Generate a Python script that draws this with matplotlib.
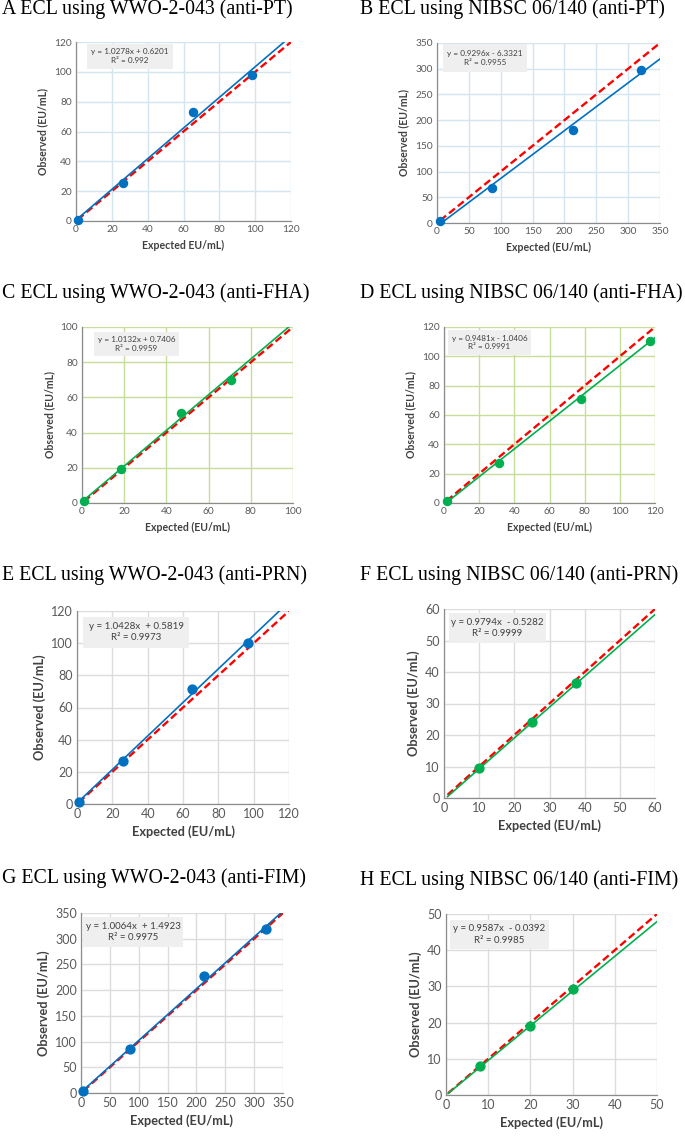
import matplotlib
matplotlib.use('Agg')
import matplotlib.pyplot as plt
import numpy as np
from matplotlib.patches import Rectangle

# ---- data ----
titles = ['A ECL using WWO-2-043 (anti-PT)', 'B ECL using NIBSC 06/140 (anti-PT)',
          'C ECL using WWO-2-043 (anti-FHA)', 'D ECL using NIBSC 06/140 (anti-FHA)',
          'E ECL using WWO-2-043 (anti-PRN)', 'F ECL using NIBSC 06/140 (anti-PRN)',
          'G ECL using WWO-2-043 (anti-FIM)', 'H ECL using NIBSC 06/140 (anti-FIM)']
xlabels = ['Expected EU/mL)'] + ['Expected (EU/mL)'] * 7

expected_A = [1, 26.5, 65.5, 98.5]
observed_A = [1, 25.5, 73, 98]
expected_B = [5, 86, 214, 320]
observed_B = [3, 69, 181, 298]
expected_C = [1, 18.5, 47, 70.5]
observed_C = [1, 19.5, 51, 70]
expected_D = [1.5, 31, 78, 117]
observed_D = [1.5, 27, 71, 110.5]
expected_E = [1, 26, 65, 97]
observed_E = [1.5, 27, 71.5, 100]
expected_F = [10, 25, 37.5]
observed_F = [9.5, 24, 36.5]
expected_G = [4, 85, 213, 320]
observed_G = [4, 86, 227, 319]
expected_H = [8, 20, 30]
observed_H = [8, 19, 29.3]

slopes = [1.0278, 0.9296, 1.0132, 0.9481, 1.0428, 0.9794, 1.0064, 0.9587]
intercepts = [0.6201, -6.3321, 0.7406, -1.0406, 0.5819, -0.5282, 1.4923, -0.0392]
equations = ['y = 1.0278x + 0.6201', 'y = 0.9296x - 6.3321', 'y = 1.0132x + 0.7406',
             'y = 0.9481x - 1.0406', 'y = 1.0428x  + 0.5819', 'y = 0.9794x  - 0.5282',
             'y = 1.0064x  + 1.4923', 'y = 0.9587x  - 0.0392']
r2 = ['R² = 0.992', 'R² = 0.9955', 'R² = 0.9959', 'R² = 0.9991',
      'R² = 0.9973', 'R² = 0.9999', 'R² = 0.9975', 'R² = 0.9985']

axis_max = [120, 350, 100, 120, 120, 60, 350, 50]
tick_step = [20, 50, 20, 20, 20, 10, 50, 10]
line_start = [1, 5, 1, 1.5, 1, 1, 4, 0.5]

expected = [expected_A, expected_B, expected_C, expected_D, expected_E, expected_F, expected_G, expected_H]
observed = [observed_A, observed_B, observed_C, observed_D, observed_E, observed_F, observed_G, observed_H]

# ---- styling ----
BLUE = '#0070c0'
GREEN = '#00b050'
colors = [BLUE, BLUE, GREEN, GREEN, BLUE, GREEN, BLUE, GREEN]
grid_colors = ['#d5e5f0', '#d5e5f0', '#c8dc9c', '#c8dc9c', '#dcdcdc', '#dcdcdc', '#dcdcdc', '#dcdcdc']

W, H = 685, 1140
# axes boxes in pixels: left, right, top, bottom
boxes = [(76, 291, 42, 221), (437, 660, 43, 223),
         (82, 293, 327, 503), (444, 655, 327, 503),
         (77, 289, 611, 804), (444, 655, 609, 798),
         (81, 283, 913, 1093), (446, 657, 914, 1095)]
title_pos = [(2, 9), (360, 9), (2, 293), (360, 293), (2, 575), (360, 575), (2, 878), (360, 880)]
eq_box = [(0.05, 0.45, 0.85, 0.99), (0.027, 0.404, 0.84, 0.995),
          (0.057, 0.46, 0.835, 0.97), (0.02, 0.41, 0.84, 0.983),
          (0.03, 0.53, 0.81, 0.97), (0.024, 0.483, 0.82, 0.98),
          (0.01, 0.505, 0.81, 0.98), (0.02, 0.488, 0.807, 0.967)]

fig = plt.figure(figsize=(W / 100, H / 100), dpi=100)

for i in range(8):
    l, r, t, b = boxes[i]
    ax = fig.add_axes([l / W, 1 - b / H, (r - l) / W, (b - t) / H])
    big = i >= 4
    tick_fs = 9.0 if big else 7.3
    lab_fs = 9.2 if big else 7.6
    eq_fs = 7.0 if big else 5.9
    ms = 6.4 if big else 5.8

    m = axis_max[i]
    ax.set_xlim(0, m)
    ax.set_ylim(0, m)
    ticks = np.arange(0, m + 1, tick_step[i])
    ax.set_xticks(ticks)
    ax.set_yticks(ticks)
    ax.grid(True, color=grid_colors[i], lw=1.0)
    ax.set_axisbelow(True)
    for s in ['top', 'right']:
        ax.spines[s].set_visible(False)
    for s in ['left', 'bottom']:
        ax.spines[s].set_color('#8c8c8c')
        ax.spines[s].set_linewidth(0.9)
    ax.tick_params(length=0, pad=3, labelsize=tick_fs, labelcolor='#595959')
    for lbl in ax.get_xticklabels() + ax.get_yticklabels():
        lbl.set_family('Lato')

    xs = np.array([line_start[i], m])
    ax.plot(xs, xs, color='#ff0000', lw=1.7, ls=(0, (3.2, 1.6)), zorder=3)
    ax.plot(xs, slopes[i] * xs + intercepts[i], color=colors[i], lw=1.2, zorder=4)
    ax.plot(expected[i], observed[i], 'o', color=colors[i], ms=ms, zorder=5, clip_on=False)

    ax.set_xlabel(xlabels[i], fontsize=lab_fs, fontweight='bold', color='#404040',
                  family='Lato', labelpad=4)
    ax.set_ylabel('Observed (EU/mL)', fontsize=lab_fs, fontweight='bold', color='#404040',
                  family='Lato', labelpad=4)

    bx0, bx1, by0, by1 = eq_box[i]
    ax.add_patch(Rectangle((bx0, by0), bx1 - bx0, by1 - by0, transform=ax.transAxes,
                           facecolor='#efefef', edgecolor='none', zorder=6))
    ax.text((bx0 + bx1) / 2, (by0 + by1) / 2, equations[i] + '\n' + r2[i],
            transform=ax.transAxes, ha='center', va='center', fontsize=eq_fs,
            color='#404040', family='Lato', zorder=7, linespacing=1.3)

    tx, ty = title_pos[i]
    fig.text(tx / W, 1 - ty / H, titles[i], ha='left', va='center', fontsize=14.3,
             family='Liberation Serif', color='black')

fig.savefig('out.png', dpi=100)
